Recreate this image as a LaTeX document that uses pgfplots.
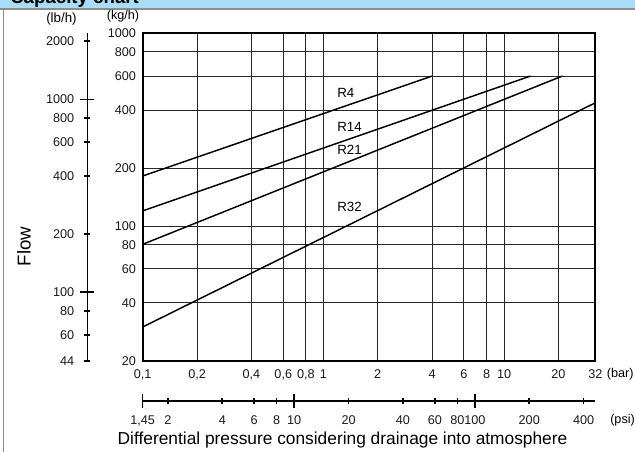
\documentclass[border=0pt]{standalone}
\usepackage{pgfplots}
\pgfplotsset{compat=1.18}
\usepackage{fontspec}
\setmainfont{Liberation Sans}
\definecolor{titleblue}{HTML}{A9DDF7}
\definecolor{framegray}{HTML}{8C8C8C}
\newcommand{\tl}{\fontsize{9.5pt}{11pt}\selectfont}
\begin{document}
\begin{tikzpicture}
\useasboundingbox (0,0) rectangle (476.25pt,339pt);
\fill[titleblue] (0,333pt) rectangle (476.25pt,339pt);
\fill[framegray] (0,331.5pt) rectangle (476.25pt,333pt);
\fill[framegray] (2pt,0) rectangle (3pt,331.5pt);
\begin{scope}
\clip (0,333pt) rectangle (476.25pt,339pt);
\node[anchor=base west, font=\bfseries\fontsize{14pt}{16pt}\selectfont, inner sep=0] at (7.5pt,336pt) {Capacity chart};
\end{scope}

% main chart (kg/h vs bar)
\begin{axis}[
  at={(107pt,68.25pt)}, anchor=south west, scale only axis,
  width=339.5pt, height=245.8pt,
  xmode=log, ymode=log, xmin=0.1, xmax=32, ymin=20, ymax=1000,
  xtick={0.1,0.2,0.4,0.6,0.8,1,2,4,6,8,10,20,32},
  xticklabels={{0,1},{0,2},{0,4},{0,6},{0,8},1,2,4,6,8,10,20,32},
  ytick={20,40,60,80,100,200,400,600,800,1000},
  yticklabels={20,40,60,80,100,200,400,600,800,1000},
  xminorticks=false, yminorticks=false,
  grid=major, major grid style={black!85, line width=0.75pt},
  major tick length=0pt,
  axis line style={line width=1.3pt},
  tick label style={font=\tl, text=black!90},
  xticklabel style={yshift=-2.5pt, text height=7pt, text depth=2pt},
  yticklabel style={xshift=-1.5pt},
  clip=false,
]
\addplot[black, line width=1.1pt] coordinates {(0.1,182) (4,600)};
\addplot[black, line width=1.1pt] coordinates {(0.1,120) (14,600)};
\addplot[black, line width=1.1pt] coordinates {(0.1,80.5) (21,600)};
\addplot[black, line width=1.1pt] coordinates {(0.1,30) (32,436)};
\node[anchor=west, font=\fontsize{10pt}{12pt}\selectfont, inner sep=0] at (axis cs:1.19,490) {R4};
\node[anchor=west, font=\fontsize{10pt}{12pt}\selectfont, inner sep=0] at (axis cs:1.19,327) {R14};
\node[anchor=west, font=\fontsize{10pt}{12pt}\selectfont, inner sep=0] at (axis cs:1.19,248) {R21};
\node[anchor=west, font=\fontsize{10pt}{12pt}\selectfont, inner sep=0] at (axis cs:1.19,125.7) {R32};
\end{axis}

% lb/h scale
\begin{axis}[
  at={(65.6pt,68.25pt)}, anchor=south west, scale only axis,
  width=10pt, height=245.8pt,
  ymode=log, ymin=44, ymax=2200, xmin=0, xmax=1,
  axis x line=none, axis y line*=left, axis line style={line width=1.4pt,-},
  ytick={44,60,80,200,400,600,800,2000},
  yticklabels={44,60,80,200,400,600,800,2000},
  extra y ticks={100,1000}, extra y tick labels={100,1000},
  extra y tick style={major tick length=10.5pt, yticklabel style={xshift=3pt}},
  major tick length=4.5pt, tick align=center,
  tick style={line width=1.2pt, black},
  yminorticks=false,
  tick label style={font=\tl, text=black!90},
  yticklabel style={xshift=-4.1pt},
]
\end{axis}

% psi scale
\begin{axis}[
  at={(107pt,38.25pt)}, anchor=south west, scale only axis,
  width=339.5pt, height=10pt,
  xmode=log, xmin=1.450377, xmax=464.12, ymin=0, ymax=1,
  axis y line=none, axis x line*=bottom, axis line style={line width=1.4pt,-},
  xtick={2,4,6,8,20,40,60,80,200,400},
  xticklabels={2,4,6,8,20,40,60,80,200,400},
  extra x ticks={1.450377,10,100}, extra x tick labels={{1,45},10,100},
  extra x tick style={major tick length=10.5pt, xticklabel style={yshift=3pt}},
  major tick length=4.5pt, tick align=center,
  tick style={line width=1.2pt, black},
  xminorticks=false,
  tick label style={font=\tl, text=black!90},
  xticklabel style={yshift=-4.5pt, text height=7pt, text depth=2pt},
]
\end{axis}

\node[anchor=base west, font=\tl, inner sep=0] at (455pt,55.5pt) {(bar)};
\node[anchor=base west, font=\tl, inner sep=0] at (457.5pt,21pt) {(psi)};
\node[anchor=base, font=\fontsize{10pt}{12pt}\selectfont, inner sep=0] at (46.1pt,321.75pt) {(lb/h)};
\node[anchor=base, font=\tl, inner sep=0] at (92.25pt,324pt) {(kg/h)};
\node[rotate=90, font=\fontsize{14pt}{16pt}\selectfont, inner sep=0] at (18pt,154pt) {Flow};
\node[anchor=base, font=\fontsize{13pt}{15pt}\selectfont, inner sep=0] at (256.9pt,5.25pt) {Differential pressure considering drainage into atmosphere};
\end{tikzpicture}
\end{document}
